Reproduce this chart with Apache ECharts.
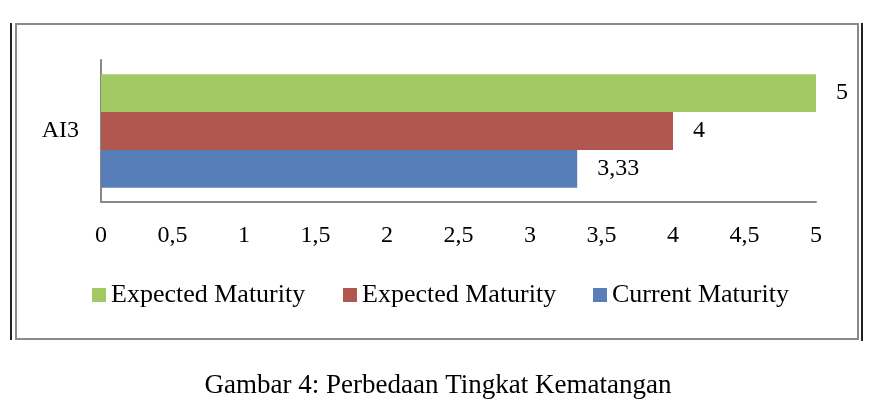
<!DOCTYPE html>
<html>
<head>
<meta charset="utf-8">
<script src="https://cdn.jsdelivr.net/npm/echarts@6/dist/echarts.min.js"></script>
<style>
html,body{margin:0;padding:0;background:#fff;}
#chart{width:876px;height:416px;}
</style>
</head>
<body>
<div id="chart"></div>
<script>
const categories = ['AI3'];
const currentMaturity = [3.33];
const expectedMaturityRed = [4];
const expectedMaturityGreen = [5];
const seriesNames = ['Current Maturity', 'Expected Maturity', 'Expected Maturity\u200B'];
const xTicks = [0, 0.5, 1, 1.5, 2, 2.5, 3, 3.5, 4, 4.5, 5];
const caption = 'Gambar 4: Perbedaan Tingkat Kematangan';

const FONT = '"Liberation Serif", "Times New Roman", serif';
const colors = ['#587EB9', '#B05750', '#A2C964'];
const fmtNum = v => String(v).replace('.', ',');

const chart = echarts.init(document.getElementById('chart'), null, {renderer: 'canvas'});

function legendAt(name, left) {
  return {
    data: [name],
    left: left,
    top: 282,
    padding: 0,
    itemWidth: 14,
    itemHeight: 14,
    icon: 'rect',
    selectedMode: false,
    formatter: n => n.replace('\u200B', ''),
    textStyle: {fontFamily: FONT, fontSize: 26, color: '#000'},
    itemStyle: {borderWidth: 0}
  };
}

const seriesDefs = [
  {name: seriesNames[2], data: expectedMaturityGreen, color: colors[2]},
  {name: seriesNames[1], data: expectedMaturityRed, color: colors[1]},
  {name: seriesNames[0], data: currentMaturity, color: colors[0]}
];

const option = {
  backgroundColor: '#fff',
  animation: false,
  grid: {left: 101, right: 60, top: 60, bottom: 214, containLabel: false},
  xAxis: {
    type: 'value',
    min: xTicks[0],
    max: xTicks[xTicks.length - 1],
    interval: xTicks[1] - xTicks[0],
    axisLine: {show: true, lineStyle: {color: '#888', width: 2}},
    axisTick: {show: false},
    splitLine: {show: false},
    axisLabel: {
      margin: 22,
      fontFamily: FONT, fontSize: 24, color: '#000',
      formatter: v => fmtNum(v)
    }
  },
  yAxis: {
    type: 'category',
    data: categories,
    axisLine: {show: true, lineStyle: {color: '#888', width: 2}},
    axisTick: {show: false},
    axisLabel: {margin: 22, fontFamily: FONT, fontSize: 24, color: '#000'}
  },
  legend: [
    legendAt(seriesNames[2], 92),
    legendAt(seriesNames[1], 343),
    legendAt(seriesNames[0], 593)
  ],
  series: seriesDefs.map(s => ({
    type: 'bar',
    name: s.name,
    data: s.data,
    barGap: '0%',
    barCategoryGap: '20%',
    itemStyle: {color: s.color},
    label: {
      show: true, position: 'right', distance: 20,
      fontFamily: FONT, fontSize: 24, color: '#000',
      formatter: p => fmtNum(p.value)
    }
  })),
  graphic: [
    {type: 'rect', shape: {x: 16, y: 24, width: 842, height: 315},
     style: {fill: 'none', stroke: '#8a8a8a', lineWidth: 2}, silent: true},
    {type: 'line', shape: {x1: 11, y1: 23, x2: 11, y2: 340},
     style: {stroke: '#222', lineWidth: 2}, silent: true},
    {type: 'line', shape: {x1: 862, y1: 23, x2: 862, y2: 341},
     style: {stroke: '#222', lineWidth: 2}, silent: true},
    {type: 'text', left: 'center', top: 372,
     style: {text: caption, font: '27px ' + FONT, fill: '#000'}}
  ]
};
chart.setOption(option);
</script>
</body>
</html>
